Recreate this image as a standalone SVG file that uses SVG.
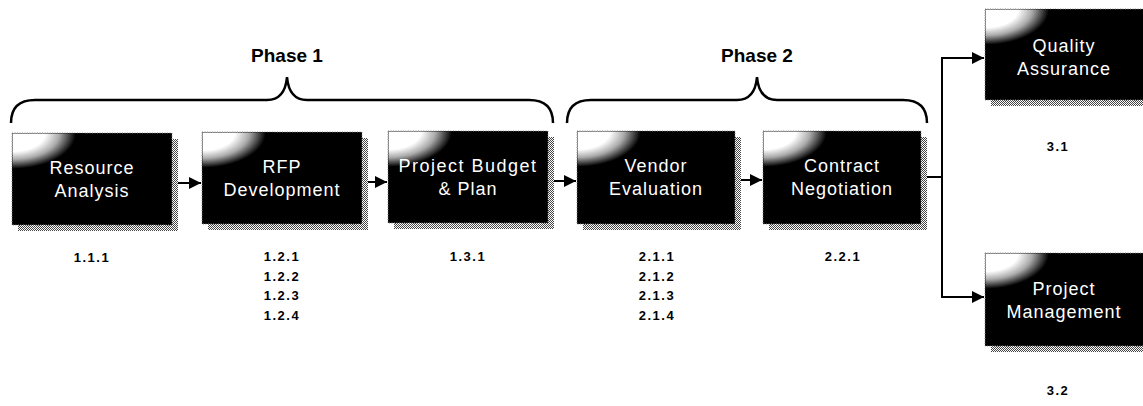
<svg xmlns="http://www.w3.org/2000/svg" width="1143" height="406" viewBox="0 0 1143 406">
<style>
.bg{fill:#fff}
.box{fill:#000;stroke:#888;stroke-width:1;stroke-dasharray:1 1.5}
.shadow{fill:url(#dots)}
.glow{fill:url(#corner)}
.t{font-family:"Liberation Sans",Arial,sans-serif;font-size:18px;fill:#fff;text-anchor:middle;letter-spacing:1px}
.n{font-family:"Liberation Sans",Arial,sans-serif;font-size:13px;font-weight:bold;fill:#000;text-anchor:middle;letter-spacing:1.5px}
.ph{font-family:"Liberation Sans",Arial,sans-serif;font-size:19px;font-weight:bold;fill:#000;text-anchor:middle}
.brace{fill:none;stroke:#000;stroke-width:2.5}
.conn{fill:none;stroke:#000;stroke-width:2}
</style>
<defs>
<pattern id="dots" width="2" height="2" patternUnits="userSpaceOnUse">
<rect width="2" height="2" fill="#fff"/>
<rect width="1" height="1" fill="#444"/>
<rect x="1" y="1" width="1" height="1" fill="#444"/>
</pattern>
<radialGradient id="corner" cx="0" cy="0" r="1" gradientUnits="objectBoundingBox">
<stop offset="0" stop-color="#fff"/>
<stop offset="0.45" stop-color="#fff"/>
<stop offset="0.65" stop-color="#aaa"/>
<stop offset="0.88" stop-color="#000"/>
<stop offset="1" stop-color="#000"/>
</radialGradient>
<marker id="arr" markerWidth="12" markerHeight="12" refX="12" refY="6" orient="auto" markerUnits="userSpaceOnUse">
<path d="M0,0 L12,6 L0,12 Z" fill="#000"/>
</marker>
</defs>
<rect class="bg" width="1143" height="406"/>

<g id="braces">
<path class="brace" d="M11,123 Q11,100 35,100 L267,100 Q285,100 287,77 Q289,100 307,100 L529,100 Q553,100 553,123"/>
<path class="brace" d="M567,123 Q567,100 591,100 L737,100 Q755,100 757,77 Q759,100 777,100 L903,100 Q927,100 927,123"/>
<text class="ph" x="287" y="62">Phase 1</text>
<text class="ph" x="757" y="62">Phase 2</text>
</g>

<g id="connectors">
<path class="conn" d="M178,183 H201" marker-end="url(#arr)"/>
<path class="conn" d="M368,182 H387" marker-end="url(#arr)"/>
<path class="conn" d="M554,181 H576" marker-end="url(#arr)"/>
<path class="conn" d="M741,180 H762" marker-end="url(#arr)"/>
<path class="conn" d="M926,177 H942 V58 H984" marker-end="url(#arr)"/>
<path class="conn" d="M942,177 V297 H984" marker-end="url(#arr)"/>
</g>

<g id="n1">
<rect class="shadow" x="18" y="139" width="160" height="92"/>
<rect class="box" x="12" y="133" width="160" height="92"/>
<rect class="glow" x="12.5" y="133.5" width="72" height="40"/>
<text class="t" x="92" y="174">Resource</text>
<text class="t" x="92" y="197">Analysis</text>
<text class="n" x="92" y="262">1.1.1</text>
</g>

<g id="n2">
<rect class="shadow" x="208" y="138" width="160" height="92"/>
<rect class="box" x="202" y="132" width="160" height="92"/>
<rect class="glow" x="202.5" y="132.5" width="72" height="40"/>
<text class="t" x="282" y="173">RFP</text>
<text class="t" x="282" y="196">Development</text>
<text class="n" x="282" y="261">1.2.1</text>
<text class="n" x="282" y="280.5">1.2.2</text>
<text class="n" x="282" y="300">1.2.3</text>
<text class="n" x="282" y="319.5">1.2.4</text>
</g>

<g id="n3">
<rect class="shadow" x="394" y="137" width="160" height="92"/>
<rect class="box" x="388" y="131" width="160" height="92"/>
<rect class="glow" x="388.5" y="131.5" width="72" height="40"/>
<text class="t" x="468" y="172" style="letter-spacing:1.5px">Project Budget</text>
<text class="t" x="468" y="195">&amp; Plan</text>
<text class="n" x="468" y="261">1.3.1</text>
</g>

<g id="n4">
<rect class="shadow" x="583" y="137" width="158" height="93"/>
<rect class="box" x="577" y="131" width="158" height="93"/>
<rect class="glow" x="577.5" y="131.5" width="72" height="40"/>
<text class="t" x="656" y="172">Vendor</text>
<text class="t" x="656" y="195">Evaluation</text>
<text class="n" x="657" y="261">2.1.1</text>
<text class="n" x="657" y="280.5">2.1.2</text>
<text class="n" x="657" y="300">2.1.3</text>
<text class="n" x="657" y="319.5">2.1.4</text>
</g>

<g id="n5">
<rect class="shadow" x="769" y="137" width="158" height="93"/>
<rect class="box" x="763" y="131" width="158" height="93"/>
<rect class="glow" x="763.5" y="131.5" width="72" height="40"/>
<text class="t" x="842" y="172">Contract</text>
<text class="t" x="842" y="195">Negotiation</text>
<text class="n" x="843" y="261">2.2.1</text>
</g>

<g id="n6">
<rect class="shadow" x="991" y="15" width="165" height="91"/>
<rect class="box" x="985" y="9" width="165" height="91"/>
<rect class="glow" x="985.5" y="9.5" width="72" height="40"/>
<text class="t" x="1064" y="52">Quality</text>
<text class="t" x="1064" y="75">Assurance</text>
<text class="n" x="1058" y="151">3.1</text>
</g>

<g id="n7">
<rect class="shadow" x="991" y="259" width="165" height="93"/>
<rect class="box" x="985" y="253" width="165" height="93"/>
<rect class="glow" x="985.5" y="253.5" width="72" height="40"/>
<text class="t" x="1064" y="295">Project</text>
<text class="t" x="1064" y="318">Management</text>
<text class="n" x="1058" y="395">3.2</text>
</g>
</svg>
